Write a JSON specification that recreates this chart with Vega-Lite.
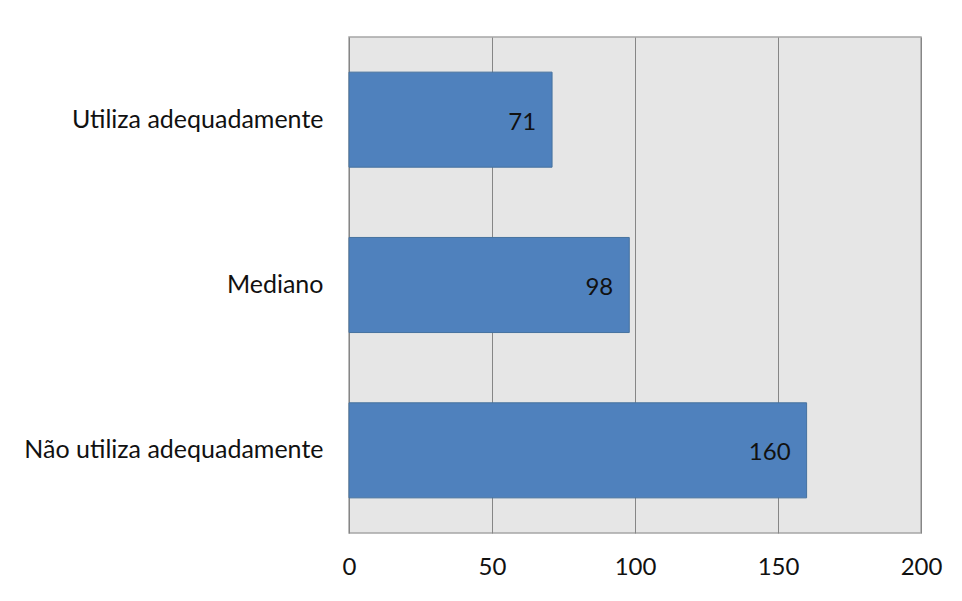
{
  "$schema": "https://vega.github.io/schema/vega-lite/v6.json",
  "width": 572,
  "height": 496,
  "autosize": "none",
  "padding": {"left": 349, "top": 37, "right": 41, "bottom": 68},
  "background": "white",
  "config": {
    "font": "Lato",
    "view": {"fill": "#e6e6e6", "stroke": "#a6a6a6", "strokeWidth": 1.5}
  },
  "data": {
    "values": [
      {"categoria": "Utiliza adequadamente", "total": 71},
      {"categoria": "Mediano", "total": 98},
      {"categoria": "Não utiliza adequadamente", "total": 160}
    ]
  },
  "encoding": {
    "y": {
      "field": "categoria",
      "type": "nominal",
      "sort": null,
      "scale": {"paddingInner": 0.425, "paddingOuter": 0.2125},
      "axis": {
        "title": null,
        "domain": false,
        "ticks": false,
        "labelPadding": 26,
        "labelLimit": 0,
        "labelFontSize": 25,
        "labelColor": "#111111",
        "labelFont": "Lato"
      }
    },
    "x": {
      "field": "total",
      "type": "quantitative",
      "scale": {"domain": [0, 200], "nice": false},
      "axis": {
        "title": null,
        "values": [0, 50, 100, 150, 200],
        "grid": true,
        "gridColor": "#868686",
        "gridWidth": 1,
        "domain": false,
        "ticks": false,
        "labelFlush": false,
        "labelPadding": 22,
        "labelFontSize": 24,
        "labelColor": "#111111",
        "labelFont": "Lato"
      }
    }
  },
  "layer": [
    {
      "mark": {"type": "bar", "color": "#4f81bd", "stroke": "#46729f", "strokeWidth": 1}
    },
    {
      "mark": {
        "type": "text",
        "align": "right",
        "baseline": "middle",
        "dx": -16,
        "dy": 3,
        "fontSize": 24,
        "color": "#111111",
        "font": "Lato"
      },
      "encoding": {"text": {"field": "total", "type": "quantitative"}}
    }
  ]
}
